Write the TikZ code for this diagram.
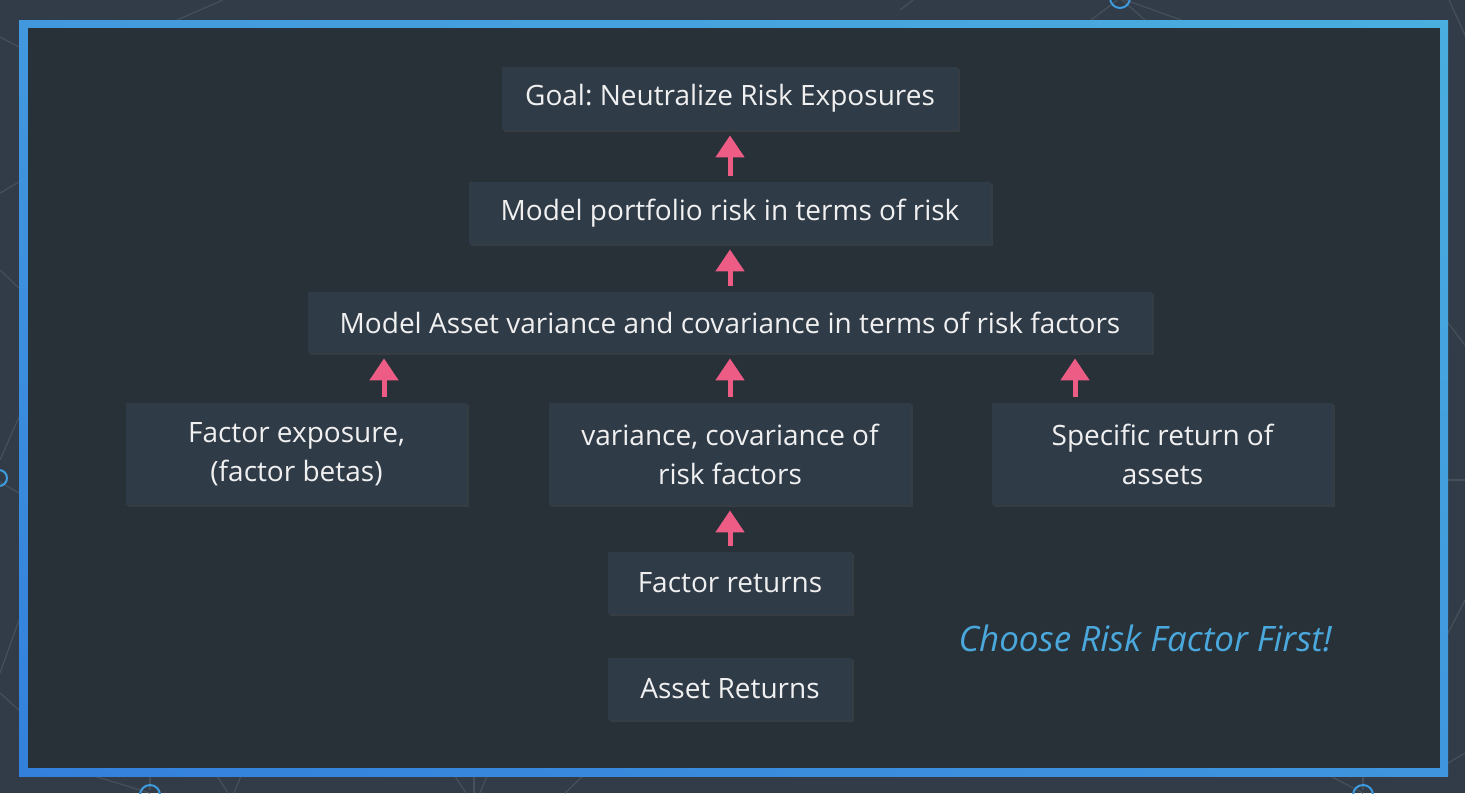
\documentclass[tikz,border=0pt]{standalone}
\usepackage{fontspec}
\setmainfont{Open Sans}
\usepackage{tikz}
\usetikzlibrary{arrows.meta, positioning, shadows, shadings}
\frenchspacing
\definecolor{outerbg}{HTML}{323C48}
\definecolor{innerbg}{HTML}{283138}
\definecolor{boxfill}{HTML}{303B48}
\definecolor{netline}{HTML}{46505B}
\definecolor{arrowpink}{HTML}{EC5C85}
\definecolor{notecolor}{HTML}{4AA8DC}
\definecolor{ringblue}{HTML}{3D9BE0}
\definecolor{frameul}{HTML}{4298DD}
\definecolor{frameur}{HTML}{4AAEDF}
\definecolor{framell}{HTML}{3380DC}
\definecolor{framelr}{HTML}{3F96DE}
\tikzstyle{block}=[fill=boxfill,rectangle,text=white!94!black,align=center,inner sep=0pt,
  drop shadow={opacity=0.15,shadow xshift=1pt,shadow yshift=-1pt}]
\tikzstyle{every node}=[font=\fontsize{14}{19.5}\selectfont]
\tikzstyle{arrow}=[-{Triangle[width=14pt,length=11pt]},line width=2.5pt,draw=arrowpink,
  shorten >=2.5pt,shorten <=3pt]
\tikzstyle{net}=[draw=netline,line width=0.6pt]
\tikzstyle{ring}=[draw=ringblue,line width=1pt]

\begin{document}
\begin{tikzpicture}[x=0.5pt,y=-0.5pt,auto,node distance=60pt]
  \useasboundingbox (0,0) rectangle (1465,793);
  \fill[outerbg] (0,0) rectangle (1465,793);
  \draw[net] (177,20) -- (223,0);
  \draw[net] (0,37) -- (19,47);
  \draw[net] (0,193) -- (19,182);
  \draw[net] (0,270) -- (19,288);
  \draw[net] (19,417) -- (0,460);
  \draw[net] (0,482) -- (19,493);
  \draw[net] (19,620) -- (0,673);
  \draw[net] (0,693) -- (19,710);
  \draw[net] (900,10) -- (913,0);
  \draw[net] (1120,-2) -- (1091,20);
  \draw[net] (1120,-2) -- (1145,20);
  \draw[net] (1120,-2) -- (1181,20);
  \draw[net] (1449,0) -- (1465,35);
  \draw[net] (1448,323) -- (1465,345);
  \draw[net] (1448,480) -- (1465,480);
  \draw[net] (1448,633) -- (1465,600);
  \draw[net] (1448,763) -- (1465,753);
  \draw[net] (94,776) -- (150,793);
  \draw[net] (150,776) -- (150,790);
  \draw[net] (217,776) -- (228,793);
  \draw[net] (241,776) -- (234,793);
  \draw[net] (455,776) -- (466,793);
  \draw[net] (474,776) -- (474,793);
  \draw[net] (487,776) -- (480,793);
  \draw[net] (583,776) -- (565,793);
  \draw[net] (1330,776) -- (1363,793);
  \draw[net] (1363,776) -- (1363,790);
  \draw[ring] (1120,-2) circle (5pt);
  \draw[ring] (-1,478) circle (4pt);
  \draw[ring] (150,795) circle (5pt);
  \draw[ring] (1363,795) circle (5pt);
  \shade[upper left=frameul, upper right=frameur, lower left=framell, lower right=framelr]
    (19,20) rectangle (1448,776);
  \fill[innerbg] (28,28) rectangle (1440,768);

  \node[block, minimum width=122pt, minimum height=31pt] (assetret) at (730,689) {Asset Returns};
  \node[block, minimum width=122pt, minimum height=31pt, above of=assetret, node distance=53pt] (factorret) {Factor returns};
  \node[block, minimum width=181pt, minimum height=51pt, above of=factorret, node distance=64.5pt] (varcov) {variance, covariance of\\risk factors};
  \node[block, minimum width=170.5pt, minimum height=51pt, left of=varcov, node distance=216.75pt] (exposure) {Factor exposure,\\(factor betas)};
  \node[block, minimum width=170.5pt, minimum height=51pt, right of=varcov, node distance=216.25pt] (specific) {Specific return of\\assets};
  \node[block, minimum width=422pt, minimum height=30.5pt, above of=varcov, node distance=65.75pt] (assetvar) {Model Asset variance and covariance in terms of risk factors};
  \node[block, minimum width=261pt, minimum height=31pt, above of=assetvar, node distance=54.75pt] (portfolio) {Model portfolio risk in terms of risk};
  \node[block, minimum width=228pt, minimum height=31.5pt, above of=portfolio, node distance=57.25pt] (goal) {Goal: Neutralize Risk Exposures};
  \node[anchor=east, text=notecolor, font=\fontsize{17.5}{20}\selectfont\itshape] (note) at (1339,638) {Choose Risk Factor First!};

  \draw[arrow] (factorret) -- (varcov);
  \draw[arrow] (varcov) -- (assetvar);
  \draw[arrow] ([xshift=43.75pt]exposure.north) -- ([xshift=-173pt]assetvar.south);
  \draw[arrow] ([xshift=-43.75pt]specific.north) -- ([xshift=172.5pt]assetvar.south);
  \draw[arrow] (assetvar) -- (portfolio);
  \draw[arrow] (portfolio) -- (goal);
\end{tikzpicture}
\end{document}
